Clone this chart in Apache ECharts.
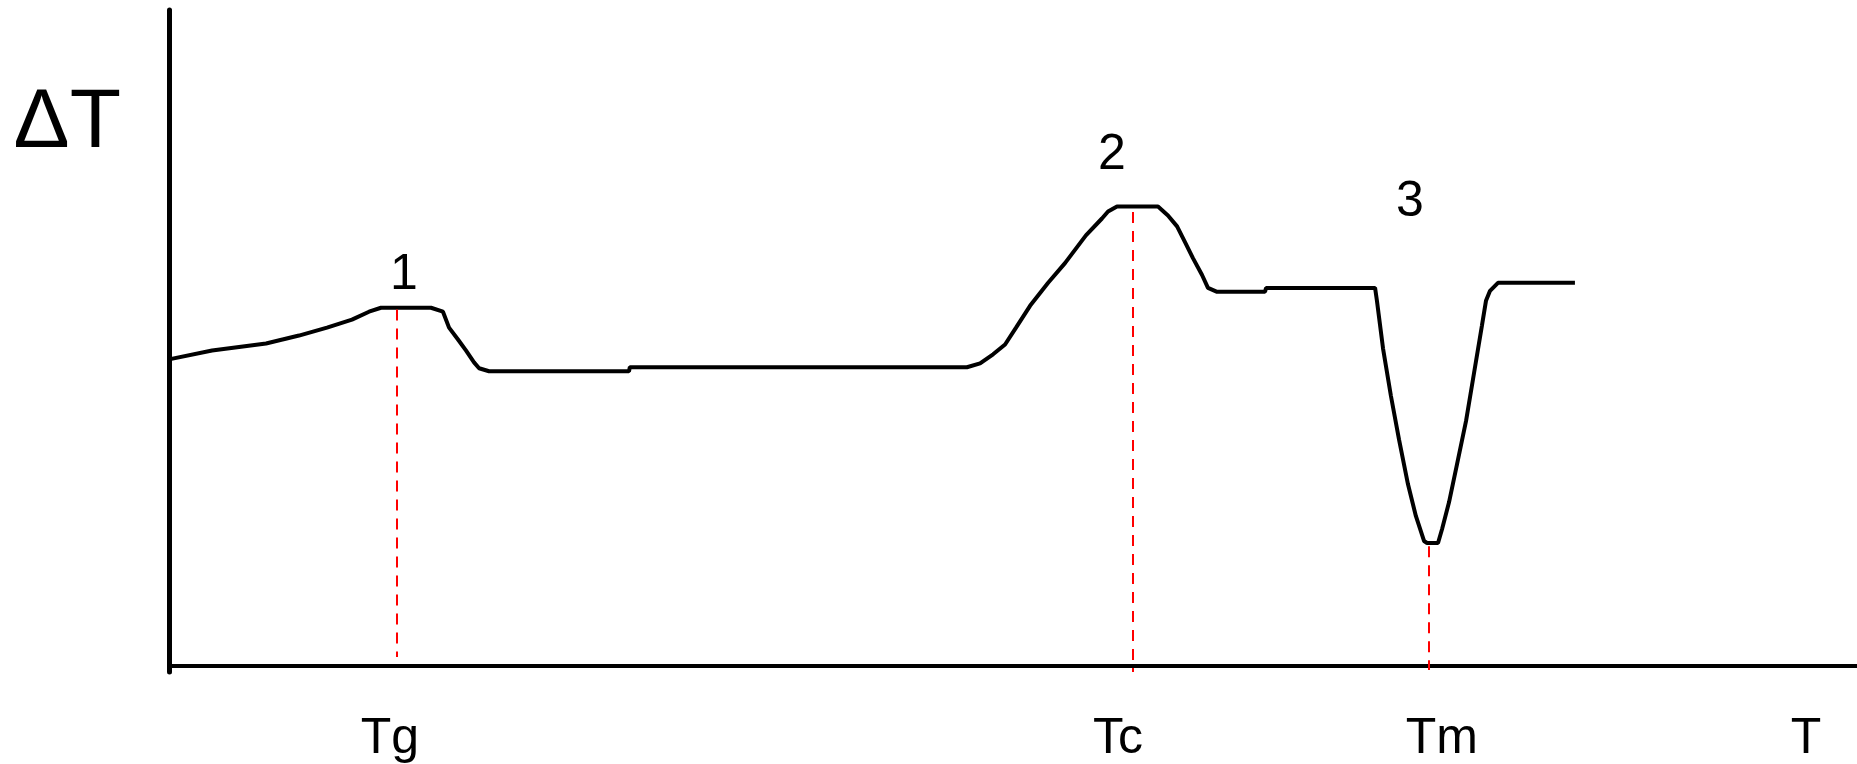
<!DOCTYPE html>
<html>
<head>
<meta charset="utf-8">
<script src="https://cdn.jsdelivr.net/npm/echarts@6/dist/echarts.min.js"></script>
<style>
  html, body { margin: 0; padding: 0; background: #fff; }
  #chart { width: 1857px; height: 764px; }
</style>
</head>
<body>
<div id="chart"></div>
<script>
// DTA curve (T and dT in arbitrary units 0..100)
var curveT = [0, 2.55, 5.75, 7.70, 9.36, 10.84, 11.85, 12.56, 15.52, 16.23, 16.59, 17.12, 17.59, 18.07, 18.37, 18.96,
  27.25, 27.3, 47.27, 48.05, 48.82, 49.53, 50.18, 51.01, 52.07, 53.08, 54.32, 55.27, 55.63, 56.16, 58.59,
  59.18, 59.72, 60.19, 60.66, 61.20, 61.55, 62.09, 64.93, 64.99, 71.45, 71.56, 71.92, 72.39, 72.87, 73.40,
  73.87, 74.35, 74.53, 75.18, 75.42, 75.83, 76.30, 76.84, 77.31, 77.78, 78.02, 78.26, 78.73, 83.29];
var curveDT = [46.7, 48.06, 49.12, 50.33, 51.54, 52.76, 53.97, 54.57, 54.57, 53.97, 51.54, 49.73, 48.06, 46.24, 45.34, 44.88,
  44.88, 45.49, 45.49, 46.09, 47.47, 48.97, 51.54, 54.87, 58.35, 61.38, 65.62, 68.19, 69.25, 70.02, 70.02,
  68.66, 66.99, 64.57, 62.14, 59.57, 57.6, 57.0, 57.0, 57.6, 57.6, 55.65, 48.38, 41.11, 34.45, 27.64,
  22.77, 18.99, 18.68, 18.68, 20.81, 24.89, 30.65, 37.31, 44.58, 51.85, 55.63, 57.15, 58.37, 58.37];

// red dashed drop lines (Tg, Tc, Tm)
var dropT = [13.51, 57.11, 74.64];
var dropTop = [54.3, 69.2, 18.2];
var dropBottom = [1.27, -1, -0.7];

// peak numbers
var peakNames = ['1', '2', '3'];
var peakT = [13.92, 55.86, 73.52];
var peakDT = [59.6, 77.9, 70.6];

// x tick labels
var tickLabels = ['Tg', 'Tc', 'Tm', 'T'];
var tickPos = [13.09, 56.22, 75.41, 96.98];

var chart = echarts.init(document.getElementById('chart'));

var curveData = curveT.map(function (t, i) { return [t, curveDT[i]]; });
var peakData = peakT.map(function (t, i) { return { name: peakNames[i], value: [t, peakDT[i]] }; });
var dropData = dropT.map(function (t, i) {
  return [{ coord: [t, dropTop[i]] }, { coord: [t, dropBottom[i]] }];
});

var font = '"Liberation Sans", Arial, sans-serif';

chart.setOption({
  backgroundColor: '#fff',
  animation: false,
  grid: { left: 169, right: 0, top: 10, bottom: 87 },
  xAxis: {
    type: 'value',
    min: 0,
    max: 100,
    axisLine: { onZero: true, lineStyle: { color: '#000', width: 4 } },
    axisTick: { show: false },
    splitLine: { show: false },
    axisLabel: {
      customValues: tickPos,
      margin: 42,
      color: '#000',
      fontSize: 50,
      fontFamily: font,
      formatter: function (v) { return tickLabels[tickPos.indexOf(v)]; }
    }
  },
  yAxis: {
    type: 'value',
    min: -1,
    max: 100,
    name: 'ΔT',
    nameLocation: 'end',
    nameGap: -114,
    nameTextStyle: {
      color: '#000', fontSize: 84, fontFamily: font,
      align: 'right', verticalAlign: 'middle', padding: [0, 48, 0, 0]
    },
    axisLine: { lineStyle: { color: '#000', width: 5 } },
    axisTick: { show: false },
    axisLabel: { show: false },
    splitLine: { show: false }
  },
  series: [
    {
      type: 'line',
      data: curveData,
      showSymbol: false,
      lineStyle: { color: '#000', width: 4 },
      markLine: {
        silent: true,
        symbol: 'none',
        label: { show: false },
        lineStyle: { color: '#ff0000', width: 2, type: [11, 8] },
        data: dropData
      }
    },
    {
      type: 'scatter',
      data: peakData,
      symbolSize: 0,
      itemStyle: { opacity: 1 },
      label: {
        show: true,
        position: 'inside',
        formatter: '{b}',
        color: '#000',
        opacity: 1,
        fontSize: 50,
        fontFamily: font
      }
    }
  ]
});
</script>
</body>
</html>
